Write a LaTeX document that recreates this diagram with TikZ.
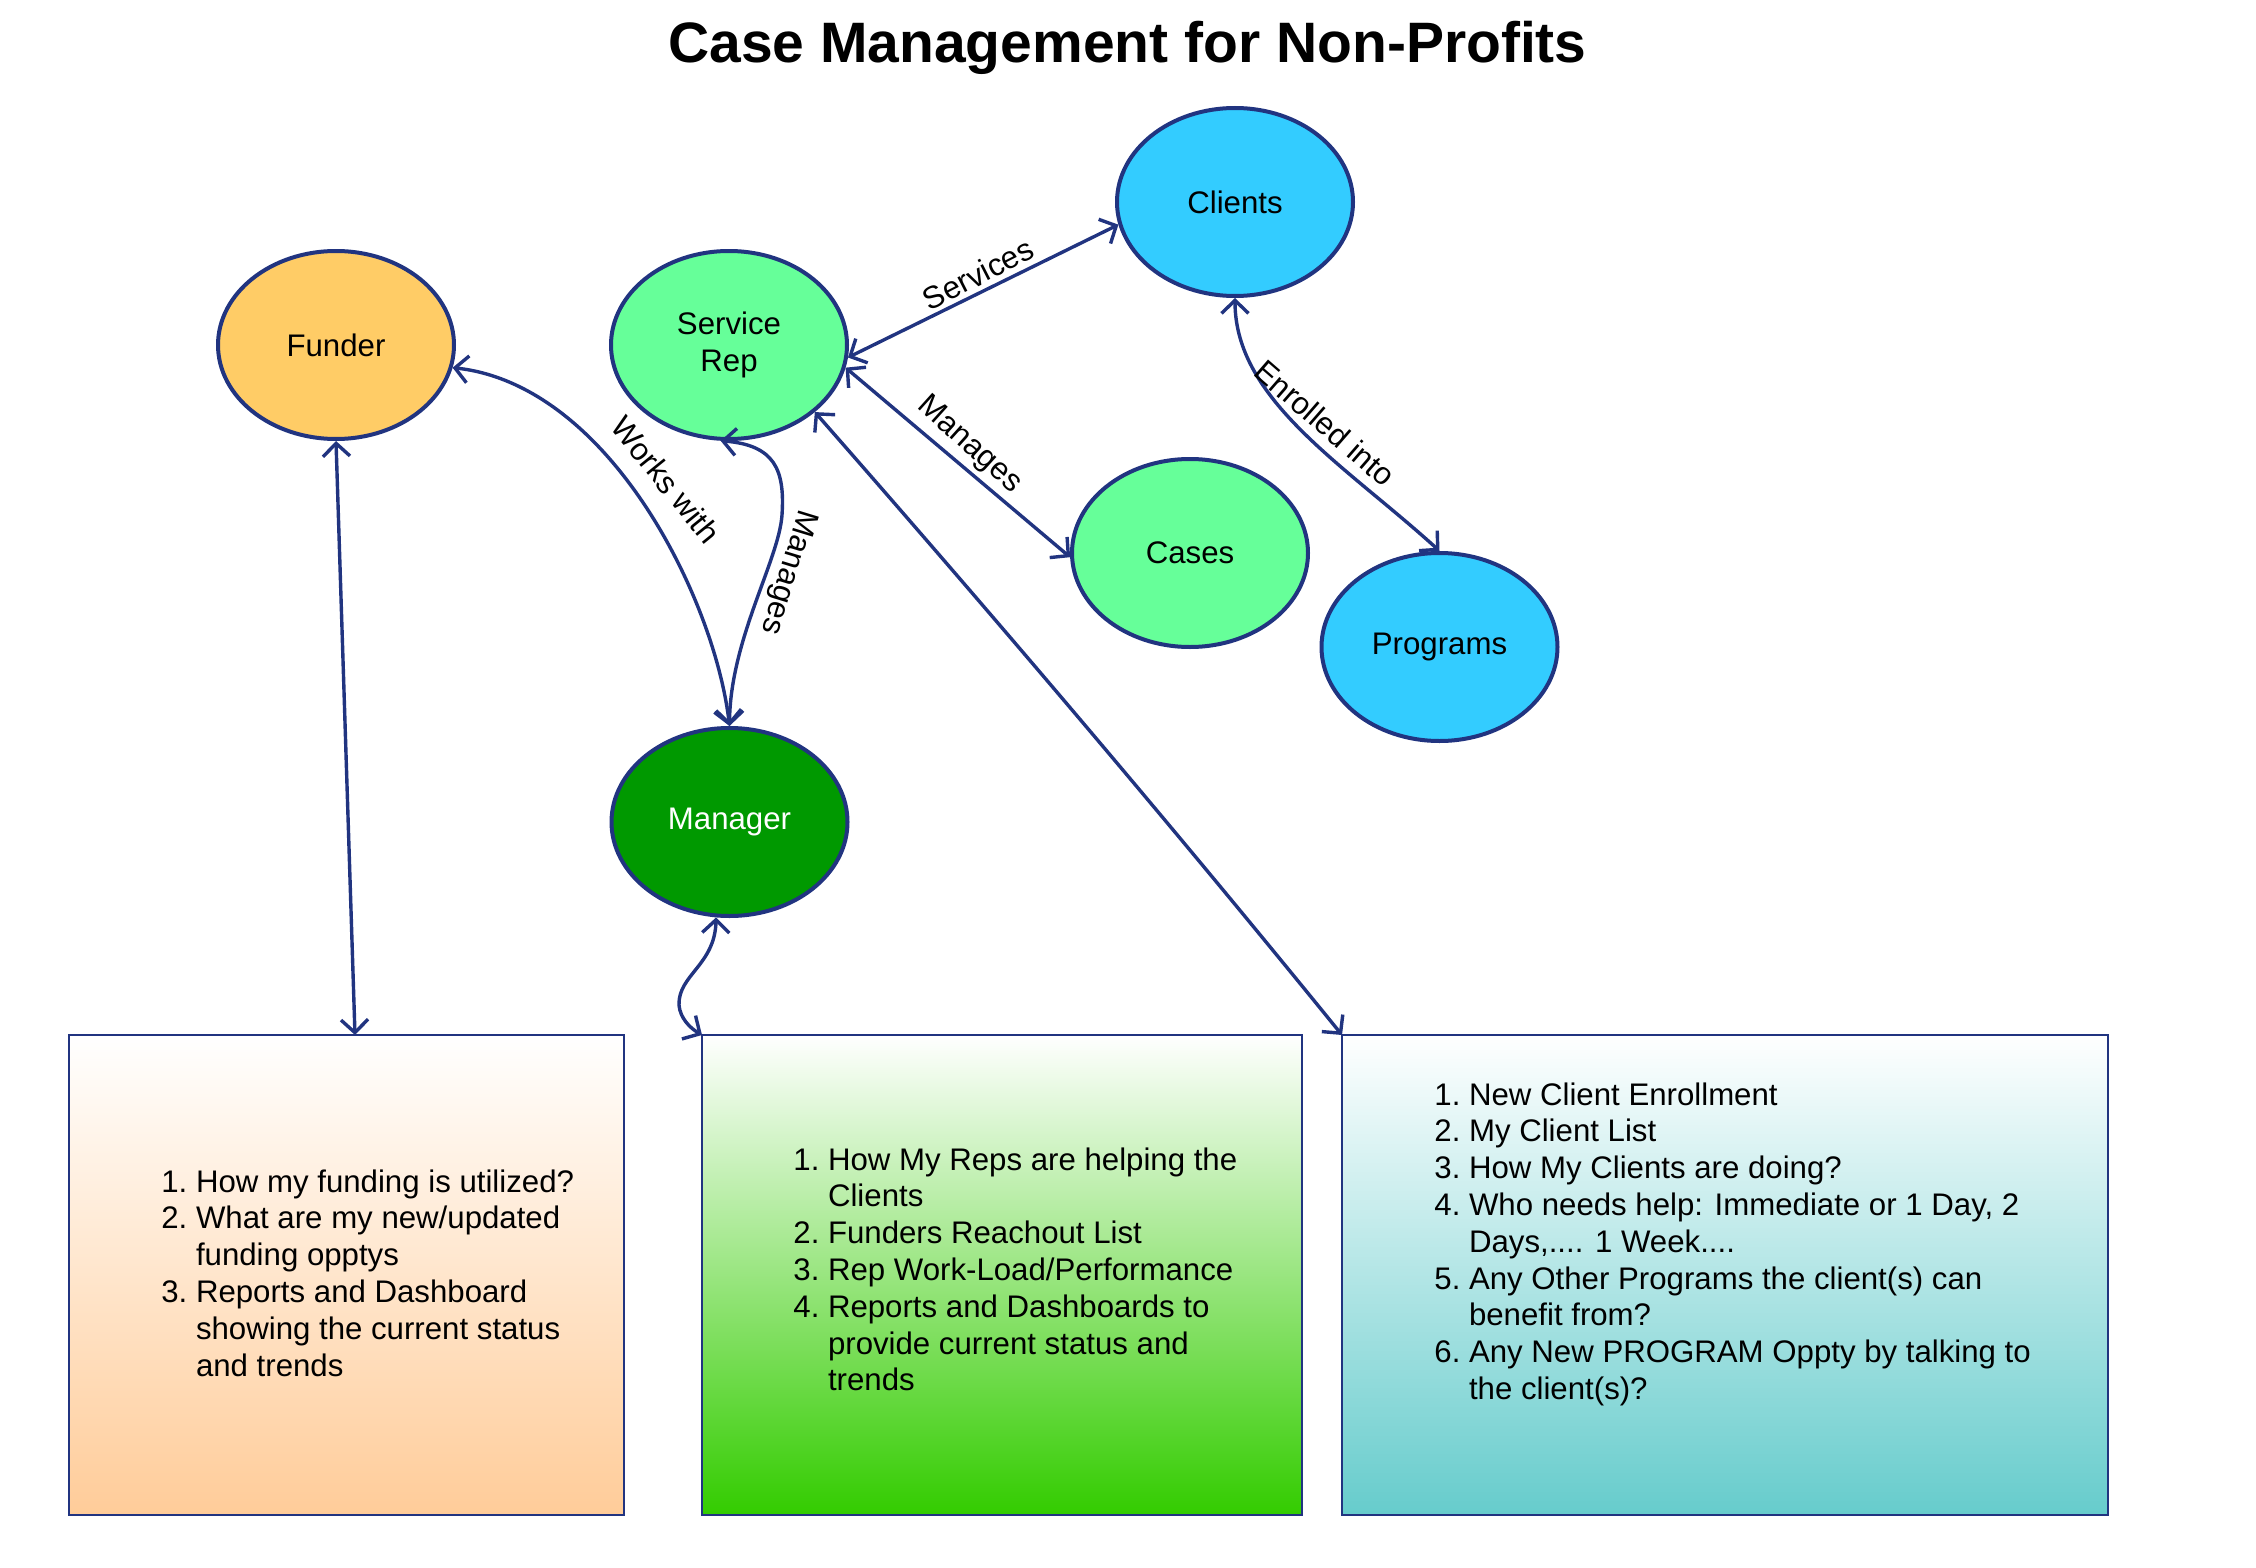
\documentclass[tikz,border=0pt]{standalone}
\usepackage{fontspec}
\setmainfont{Liberation Sans}
\usetikzlibrary{arrows.meta,shapes.geometric}
\definecolor{navy}{RGB}{33,52,128}
\definecolor{funderfill}{HTML}{FFCC66}
\definecolor{repfill}{HTML}{66FF99}
\definecolor{clientfill}{HTML}{33CCFF}
\definecolor{mgrfill}{HTML}{009900}
\definecolor{peach}{HTML}{FFCC99}
\definecolor{boxgreen}{HTML}{33CC00}
\definecolor{boxteal}{HTML}{66CCCC}
\newcommand\cmbodyfont{\fontsize{15.6pt}{18.4pt}\selectfont}
\tikzset{
  actor/.style={ellipse, draw=navy, line width=2pt, minimum width=118pt, minimum height=94pt, inner sep=0pt, font=\cmbodyfont, align=center},
  listbox/.style={rectangle, draw=navy, line width=1.1pt, inner sep=0pt, outer sep=0pt},
  link/.style={draw=navy, line width=1.7pt, {Straight Barb[length=6.5pt,width=13.5pt]}-{Straight Barb[length=6.5pt,width=13.5pt]}},
  lbl/.style={font=\cmbodyfont, inner sep=0pt},
  listtext/.style={anchor=base west, inner sep=0pt, font=\cmbodyfont},
}
\begin{document}
\begin{tikzpicture}[x=0.5pt,y=-0.5pt]
\useasboundingbox (0,0) rectangle (2256,1568);
\node[font=\fontsize{28.5pt}{34pt}\selectfont\bfseries, anchor=base, inner sep=0pt] (title) at (1127.5,63) {Case Management for Non-Profits};

\node[actor, fill=funderfill] (funder) at (336,345) {Funder};
\node[actor, fill=repfill] (rep) at (729,345) {Service\\Rep};
\node[actor, fill=clientfill] (clients) at (1235,202) {Clients};
\node[actor, fill=repfill] (cases) at (1190,553) {Cases};
\node[actor, fill=clientfill] (programs) at (1439.5,647) {Programs};
\node[actor, fill=mgrfill, text=white] (manager) at (729.5,822) {Manager};

\node[listbox, top color=white, bottom color=peach, minimum width=277.5pt, minimum height=240pt] (fbox) at (346.5,1275) {};
\node[listbox, top color=white, bottom color=boxgreen, minimum width=300pt, minimum height=240pt] (mbox) at (1002,1275) {};
\node[listbox, top color=white, bottom color=boxteal, minimum width=383pt, minimum height=240pt] (cbox) at (1725,1275) {};

\node[listtext] (ftext) at (161,1192) {\begin{tabular}[t]{@{}r@{\hspace{4.3pt}}l@{}}
1. & How my funding is utilized?\\
2. & What are my new/updated\\
   & funding opptys\\
3. & Reports and Dashboard\\
   & showing the current status\\
   & and trends
\end{tabular}};
\node[listtext] (mtext) at (793,1170) {\begin{tabular}[t]{@{}r@{\hspace{4.3pt}}l@{}}
1. & How My Reps are helping the\\
   & Clients\\
2. & Funders Reachout List\\
3. & Rep Work-Load/Performance\\
4. & Reports and Dashboards to\\
   & provide current status and\\
   & trends
\end{tabular}};
\node[listtext] (ctext) at (1434,1105) {\begin{tabular}[t]{@{}r@{\hspace{4.3pt}}l@{}}
1. & New Client Enrollment\\
2. & My Client List\\
3. & How My Clients are doing?\\
4. & Who needs help: Immediate or 1 Day, 2\\
   & Days,.... 1 Week....\\
5. & Any Other Programs the client(s) can\\
   & benefit from?\\
6. & Any New PROGRAM Oppty by talking to\\
   & the client(s)?
\end{tabular}};

\coordinate (mgrbend) at (782,515);
\coordinate (mboxbend) at (679,1005);

\draw[link] (rep.-6) -- (clients.191);
\draw[link] (rep.-11) -- (cases.182);
\draw[link] (clients.south) .. controls (1235,400) and (1345,465) .. (programs.north);
\draw[link] (funder.-11) .. controls (610,385) and (715,600) .. (manager.north);
\draw[link] (rep.-95) .. controls (775,445) and (785,470) .. (mgrbend) .. controls (779,560) and (730,640) .. (manager.north);
\draw[link] (funder.south) -- ([xshift=4.25pt]fbox.north);
\draw[link] (manager.-98) .. controls (715,965) and (678,975) .. (mboxbend) .. controls (680,1018) and (690,1028) .. (mbox.north west);
\draw[link] (rep.-38) .. controls (999,622) and (1174,828) .. (cbox.north west);

\node[lbl, rotate=27] (lServices) at (978,274) {Services};
\node[lbl, rotate=-42] (lManagesCases) at (969,445) {Manages};
\node[lbl, rotate=-41] (lEnrolled) at (1325,423) {Enrolled into};
\node[lbl, rotate=-51] (lWorks) at (666,480) {Works with};
\node[lbl, rotate=-107] (lManagesMgr) at (788,572) {Manages};
\end{tikzpicture}
\end{document}
